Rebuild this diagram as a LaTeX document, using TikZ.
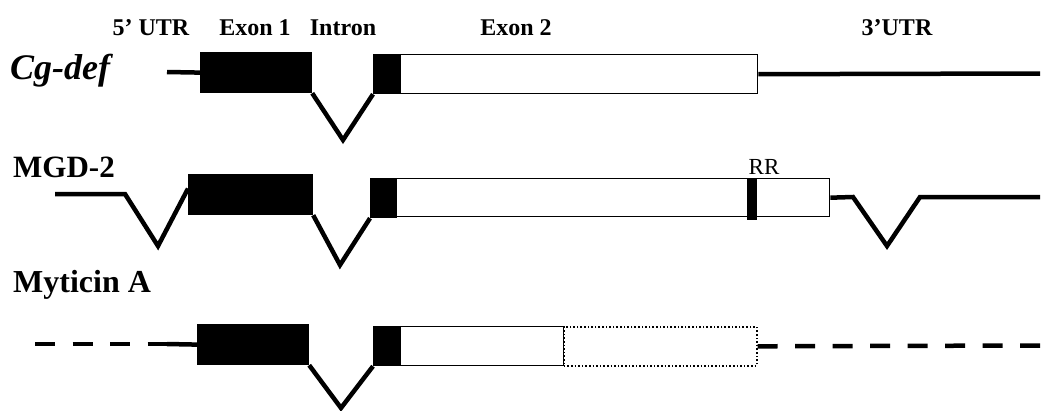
\documentclass[tikz,border=0pt]{standalone}
\usepackage{fontspec}
\setmainfont{Liberation Serif}
\begin{document}
\begin{tikzpicture}[x=1pt,y=-1pt,
  hdr/.style={font=\fontsize{24}{28}\selectfont\bfseries, anchor=base, inner sep=0},
  gname/.style={font=\fontsize{32}{36}\selectfont\bfseries, anchor=base west, inner sep=0},
  blk/.style={draw=black, fill=black, line width=1.2pt, inner sep=0, anchor=north west},
  wht/.style={draw=black, fill=white, line width=1.4pt, inner sep=0, anchor=north west},
  dotbox/.style={draw=black, fill=white, line width=1.6pt, dotted, inner sep=0, anchor=north west},
  strand/.style={line width=4.5pt, line join=miter},
  dstrand/.style={line width=4.5pt, dash pattern=on 20pt off 17.5pt}
]
\useasboundingbox (0,0) rectangle (1050,410);

% header labels
\node[hdr] (h1) at (151,35) {5’ UTR};
\node[hdr] (h2) at (255,35) {Exon 1};
\node[hdr] (h3) at (343,35) {Intron};
\node[hdr] (h4) at (516,35) {Exon 2};
\node[hdr] (h5) at (897,35) {3’UTR};

% gene names
\node[font=\fontsize{36}{40}\selectfont\bfseries\itshape, anchor=base west, inner sep=0] (n1) at (10,79) {Cg-def};
\node[gname, font=\fontsize{31}{35}\selectfont\bfseries] (n2) at (13,177) {MGD-2};
\node[gname] (n3) at (13,292) {Myticin A};

% ---------- Row 1: Cg-def ----------
\coordinate (a0) at (167,72);
\node[blk, minimum width=111pt, minimum height=40pt] (a1) at (200,52) {};
\coordinate (av) at (343,140);
\node[blk, minimum width=27pt, minimum height=39pt] (a2) at (373,54) {};
\node[wht, minimum width=357pt, minimum height=39pt] (a3) at (400,54) {};
\coordinate (aend) at (1040,73.5);
\draw[strand] (a0) -- (a1.west);
\draw[strand] (a1.south east) -- (av) -- (a2.south west);
\draw[strand] (a3.east) -- (aend);
\node[blk, minimum width=27pt, minimum height=39pt] at (373,54) {};

% ---------- Row 2: MGD-2 ----------
\coordinate (b0) at (55,194);
\coordinate (b0k) at (125,194);
\coordinate (bv1) at (158,246);
\node[blk, minimum width=124pt, minimum height=40pt] (b1) at (188,174) {};
\coordinate (bv2) at (340,265);
\node[blk, minimum width=26pt, minimum height=39pt] (b2) at (370,178) {};
\node[wht, minimum width=433pt, minimum height=38pt] (b3) at (396,178) {};
\node[blk, minimum width=9pt, minimum height=41pt] (rr) at (747,178) {};
\node[font=\fontsize{23}{27}\selectfont, anchor=base, inner sep=0] (rrl) at (764,174) {RR};
\coordinate (b4) at (853,197);
\coordinate (bv3) at (887,246);
\coordinate (b5) at (920,197);
\coordinate (bend) at (1040,197);
\draw[strand] (b0) -- (b0k) -- (bv1) -- ([yshift=6pt]b1.west);
\draw[strand] (b1.south east) -- (bv2) -- (b2.south west);
\draw[strand] (b3.east) -- (b4) -- (bv3) -- (b5) -- (bend);
\node[blk, minimum width=124pt, minimum height=40pt] at (188,174) {};
\node[blk, minimum width=26pt, minimum height=39pt] at (370,178) {};

% ---------- Row 3: Myticin A ----------
\coordinate (c0) at (35,344);
\coordinate (c0k) at (167,344);
\node[blk, minimum width=111pt, minimum height=40pt] (c1) at (197,324) {};
\coordinate (cv) at (341,408);
\node[blk, minimum width=27pt, minimum height=39pt] (c2) at (373,326) {};
\node[wht, minimum width=163pt, minimum height=39pt] (c3) at (400,326) {};
\node[dotbox, minimum width=193pt, minimum height=39pt] (c4) at (563,326) {};
\coordinate (cend) at (1040,345.5);
\draw[dstrand] (c0) -- (c0k);
\draw[strand] (c0k) -- (c1.west);
\draw[strand] (c1.south east) -- (cv) -- (c2.south west);
\draw[dstrand] (c4.east) -- (cend);
\node[blk, minimum width=27pt, minimum height=39pt] at (373,326) {};
\end{tikzpicture}
\end{document}
